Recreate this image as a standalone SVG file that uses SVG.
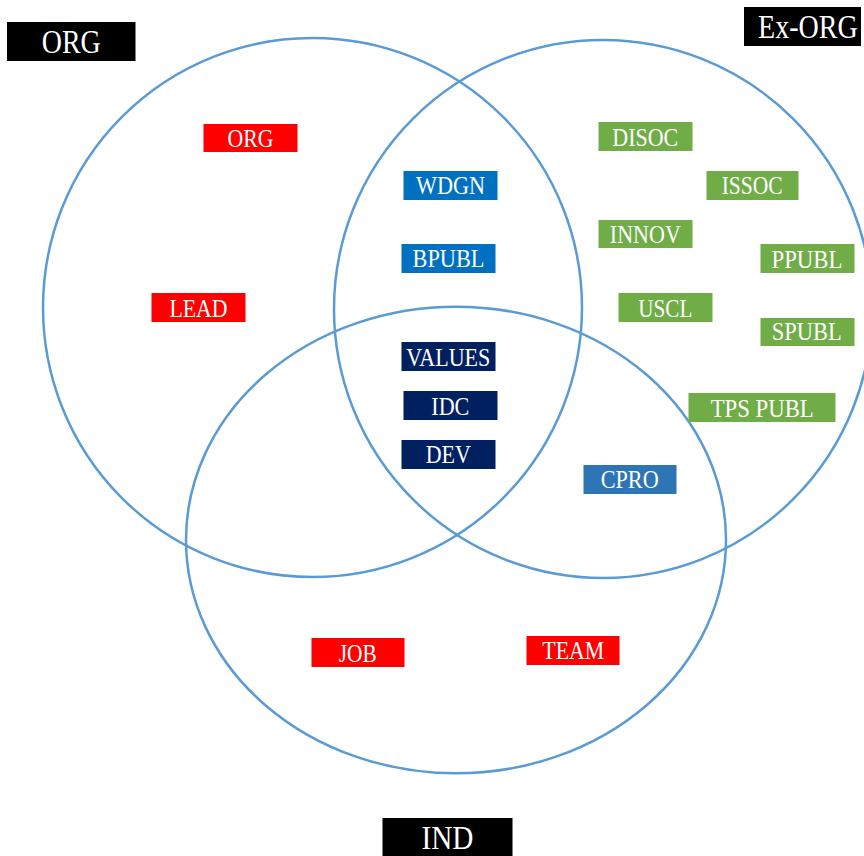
<svg xmlns="http://www.w3.org/2000/svg" width="864" height="856" viewBox="0 0 864 856">
<style>
.ring{fill:none;stroke:#5B9BD5;stroke-width:2.5}
.t{font-family:"Liberation Serif","Times New Roman",serif;font-size:25px;fill:#FFFFFF;text-anchor:middle}
.big{font-size:33px}
.red{fill:#FF0000}
.grn{fill:#70AD47}
.blu{fill:#0070C0}
.nav{fill:#002060}
.mid{fill:#2E75B6}
.blk{fill:#000000}
</style>
<rect width="864" height="856" fill="#FFFFFF"/>
<g id="circles">
<circle class="ring" cx="312.5" cy="307.5" r="269.5"/>
<circle class="ring" cx="603" cy="309" r="269"/>
<ellipse class="ring" cx="456" cy="540" rx="270" ry="233.3"/>
</g>
<g id="label-org-set"><rect class="blk" x="7" y="22" width="128.5" height="39"/><text class="t big" x="71.3" y="53.3" textLength="59" lengthAdjust="spacingAndGlyphs">ORG</text></g>
<g id="label-exorg-set"><rect class="blk" x="744" y="7" width="117" height="39"/><text class="t big" transform="matrix(0.85 0 0 1 758 37.7)" x="0" y="0" style="text-anchor:start">Ex-ORG</text></g>
<g id="label-ind-set"><rect class="blk" x="382.5" y="818" width="130" height="38"/><text class="t big" x="447.5" y="849.3" textLength="52" lengthAdjust="spacingAndGlyphs">IND</text></g>
<g id="node-org"><rect class="red" x="203.5" y="124" width="94" height="28"/><text class="t" x="250.5" y="147.3" textLength="46" lengthAdjust="spacingAndGlyphs">ORG</text></g>
<g id="node-lead"><rect class="red" x="151.5" y="293" width="94" height="29"/><text class="t" x="198.5" y="316.7" textLength="58" lengthAdjust="spacingAndGlyphs">LEAD</text></g>
<g id="node-wdgn"><rect class="blu" x="403.5" y="171" width="94" height="29"/><text class="t" x="450.5" y="194.3" textLength="69" lengthAdjust="spacingAndGlyphs">WDGN</text></g>
<g id="node-bpubl"><rect class="blu" x="401.5" y="244" width="94" height="29"/><text class="t" x="448.5" y="267.3" textLength="72" lengthAdjust="spacingAndGlyphs">BPUBL</text></g>
<g id="node-values"><rect class="nav" x="401.5" y="342" width="94" height="29"/><text class="t" x="448.3" y="366" textLength="84" lengthAdjust="spacingAndGlyphs">VALUES</text></g>
<g id="node-idc"><rect class="nav" x="403.5" y="391" width="94" height="29"/><text class="t" x="450.3" y="415" textLength="38" lengthAdjust="spacingAndGlyphs">IDC</text></g>
<g id="node-dev"><rect class="nav" x="401.5" y="440" width="94" height="29"/><text class="t" x="448.3" y="463.3" textLength="45" lengthAdjust="spacingAndGlyphs">DEV</text></g>
<g id="node-cpro"><rect class="mid" x="583.5" y="465" width="93" height="29"/><text class="t" x="629.7" y="488.3" textLength="58" lengthAdjust="spacingAndGlyphs">CPRO</text></g>
<g id="node-disoc"><rect class="grn" x="598.5" y="122" width="94" height="29"/><text class="t" x="645.3" y="145.7" textLength="66" lengthAdjust="spacingAndGlyphs">DISOC</text></g>
<g id="node-issoc"><rect class="grn" x="706.5" y="171" width="92" height="29"/><text class="t" x="752.2" y="194.3" textLength="61" lengthAdjust="spacingAndGlyphs">ISSOC</text></g>
<g id="node-innov"><rect class="grn" x="598.5" y="220" width="94" height="28"/><text class="t" x="645.3" y="242.7" textLength="71" lengthAdjust="spacingAndGlyphs">INNOV</text></g>
<g id="node-ppubl"><rect class="grn" x="760.5" y="244" width="94" height="29"/><text class="t" x="807" y="267.7" textLength="71" lengthAdjust="spacingAndGlyphs">PPUBL</text></g>
<g id="node-uscl"><rect class="grn" x="618.5" y="293" width="94" height="29"/><text class="t" x="665.3" y="316.7" textLength="54" lengthAdjust="spacingAndGlyphs">USCL</text></g>
<g id="node-spubl"><rect class="grn" x="760.5" y="318" width="94" height="28"/><text class="t" x="806.7" y="340" textLength="70" lengthAdjust="spacingAndGlyphs">SPUBL</text></g>
<g id="node-tpspubl"><rect class="grn" x="688.5" y="393" width="147" height="29"/><text class="t" x="762.2" y="416.7" textLength="103" lengthAdjust="spacingAndGlyphs">TPS PUBL</text></g>
<g id="node-job"><rect class="red" x="311.5" y="638" width="93" height="29"/><text class="t" x="357.7" y="662.3" textLength="38" lengthAdjust="spacingAndGlyphs">JOB</text></g>
<g id="node-team"><rect class="red" x="526.5" y="636" width="93" height="29"/><text class="t" x="573.3" y="659.3" textLength="62" lengthAdjust="spacingAndGlyphs">TEAM</text></g>
</svg>
